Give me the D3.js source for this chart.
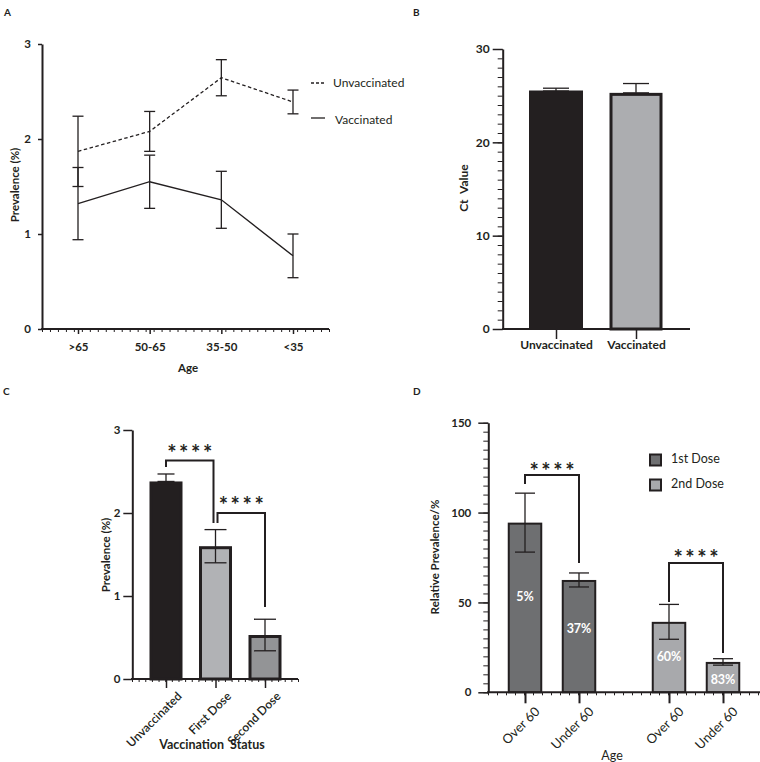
<!DOCTYPE html>
<html><head><meta charset="utf-8">
<script src="https://cdn.jsdelivr.net/npm/d3@7"></script>
<style>
body{margin:0;background:#fff;}
text{font-family:Lato,"Open Sans",sans-serif;fill:#231f20;}
</style></head>
<body>
<svg id="c" width="760" height="762"></svg>
<script>
// ---------- Data ----------
// Panel A
const ageA = [">65", "50-65", "35-50", "<35"];
const unvaccA = [1.87, 2.08, 2.645, 2.39];
const unvaccErrA = [0.37, 0.21, 0.19, 0.125];
const vaccA = [1.32, 1.55, 1.36, 0.77];
const vaccErrA = [0.38, 0.28, 0.30, 0.23];
const ticksA = [0, 1, 2, 3];
// Panel B
const groupsB = ["Unvaccinated", "Vaccinated"];
const ctB = [25.5, 25.3];
const ctErrB = [0.3, 1.0];
const ticksB = [0, 10, 20, 30];
// Panel C
const statusC = ["Unvaccinated", "First Dose", "Second Dose"];
const prevC = [2.38, 1.60, 0.53];
const prevErrC = [0.09, 0.20, 0.19];
const ticksC = [0, 1, 2, 3];
// Panel D
const doseD = ["1st Dose", "2nd Dose"];
const ageD = ["Over 60", "Under 60"];
const relD = [[94.4, 62.5], [39.2, 16.9]];
const relErrD = [[16.4, 3.9], [9.7, 1.8]];
const pctD = [["5%", "37%"], ["60%", "83%"]];
const ticksD = [0, 50, 100, 150];

const ink = "#231f20";
const svg = d3.select("#c");

function panelLabel(t, x, y) {
  svg.append("text").attr("x", x).attr("y", y).attr("font-size", 10).attr("font-weight", 700).text(t);
}
function minorAxis(g, x0, x1, n, y, len) {
  const s = d3.scaleLinear([0, n], [x0, x1]);
  g.append("g").attr("transform", `translate(0,${y})`)
    .call(d3.axisBottom(s).ticks(n).tickFormat("").tickSize(len).tickSizeOuter(0))
    .call(a => a.select(".domain").remove())
    .call(a => a.selectAll("line").attr("stroke", ink).attr("stroke-width", 1));
}
function errBar(g, x, y1, y2, w, sw) {
  g.append("line").attr("x1", x).attr("x2", x).attr("y1", y1).attr("y2", y2).attr("stroke", ink).attr("stroke-width", sw);
  g.append("line").attr("x1", x - w / 2).attr("x2", x + w / 2).attr("y1", y1).attr("y2", y1).attr("stroke", ink).attr("stroke-width", sw);
  if (y2 !== null) g.append("line").attr("x1", x - w / 2).attr("x2", x + w / 2).attr("y1", y2).attr("y2", y2).attr("stroke", ink).attr("stroke-width", sw);
}
function bracket(g, xa, ya, xb, yb, ytop, label, ystarCenter) {
  g.append("path").attr("d", `M${xa},${ya}V${ytop}H${xb}V${yb}`).attr("fill", "none").attr("stroke", ink).attr("stroke-width", 2);
  const fs = 22, ls = 2.6;
  g.append("text").attr("x", (xa + xb) / 2 + ls / 2).attr("y", ystarCenter + 0.57 * fs).attr("text-anchor", "middle")
    .attr("font-size", fs).attr("font-weight", 700).attr("font-family", "Liberation Sans").attr("letter-spacing", ls).text(label);
}

// ---------- Panel A ----------
{
  panelLabel("A", 4, 16);
  const g = svg.append("g");
  const x = d3.scalePoint().domain(ageA).range([78, 293]);
  const y = d3.scaleLinear().domain([0, 3]).range([329, 44]);
  g.append("g").attr("transform", "translate(42,0)")
    .call(d3.axisLeft(y).tickValues(ticksA).tickSize(4).tickSizeOuter(0).tickFormat(d3.format("d")))
    .call(a => a.select(".domain").attr("stroke", ink).attr("stroke-width", 2))
    .call(a => a.selectAll(".tick line").attr("stroke", ink).attr("stroke-width", 1.5))
    .call(a => a.selectAll(".tick text").attr("font-size", 11.5).attr("font-weight", 700).attr("fill", ink).attr("font-family", "Lato").attr("dx", -4));
  g.append("line").attr("x1", 41).attr("x2", 329).attr("y1", y(0)).attr("y2", y(0)).attr("stroke", ink).attr("stroke-width", 2);
  minorAxis(g, 42, 329, 36, y(0), 3);
  g.append("g").attr("transform", `translate(0,${y(0)})`)
    .call(d3.axisBottom(x).tickSize(5).tickSizeOuter(0))
    .call(a => a.select(".domain").remove())
    .call(a => a.selectAll(".tick line").attr("stroke", ink).attr("stroke-width", 1.5))
    .call(a => a.selectAll(".tick text").attr("font-size", 11.5).attr("font-weight", 700).attr("fill", ink).attr("font-family", "Lato").attr("dy", "1.2em"));
  g.append("text").attr("x", 188).attr("y", 372).attr("text-anchor", "middle").attr("font-size", 11.5).attr("font-weight", 700).text("Age");
  g.append("text").attr("transform", "translate(19,185) rotate(-90)").attr("text-anchor", "middle").attr("font-size", 11.5).attr("font-weight", 700).text("Prevalence (%)");
  const lineGen = d3.line().x((d, i) => x(ageA[i])).y(d => y(d));
  g.append("path").attr("d", lineGen(unvaccA)).attr("fill", "none").attr("stroke", ink).attr("stroke-width", 1.3).attr("stroke-dasharray", "3.5,2.5");
  g.append("path").attr("d", lineGen(vaccA)).attr("fill", "none").attr("stroke", ink).attr("stroke-width", 1.3);
  ageA.forEach((a, i) => {
    errBar(g, x(a), y(unvaccA[i] + unvaccErrA[i]), y(unvaccA[i] - unvaccErrA[i]), 11, 1.3);
    errBar(g, x(a), y(vaccA[i] + vaccErrA[i]), y(vaccA[i] - vaccErrA[i]), 11, 1.3);
  });
  g.append("line").attr("x1", 311).attr("x2", 325).attr("y1", 83).attr("y2", 83).attr("stroke", ink).attr("stroke-width", 1.3).attr("stroke-dasharray", "3,2");
  g.append("text").attr("x", 333).attr("y", 87).attr("font-size", 12).attr("fill", "#3a3a3a").text("Unvaccinated");
  g.append("line").attr("x1", 311).attr("x2", 325).attr("y1", 118).attr("y2", 118).attr("stroke", ink).attr("stroke-width", 1.3);
  g.append("text").attr("x", 335).attr("y", 124).attr("font-size", 12).attr("fill", "#3a3a3a").text("Vaccinated");
}

// ---------- Panel B ----------
{
  panelLabel("B", 413, 16);
  const g = svg.append("g");
  const x = d3.scalePoint().domain(groupsB).range([556, 636]);
  const y = d3.scaleLinear().domain([0, 30]).range([329, 49]);
  const bw = 53;
  g.append("g").attr("transform", "translate(502.7,0)")
    .call(d3.axisLeft(y).ticks(30).tickFormat("").tickSize(5).tickSizeOuter(0))
    .call(a => a.select(".domain").remove())
    .call(a => a.selectAll(".tick line").attr("stroke", ink).attr("stroke-width", 1));
  g.append("g").attr("transform", "translate(502.7,0)")
    .call(d3.axisLeft(y).tickValues(ticksB).tickSize(10).tickSizeOuter(0))
    .call(a => a.select(".domain").attr("stroke", ink).attr("stroke-width", 2))
    .call(a => a.selectAll(".tick line").attr("stroke", ink).attr("stroke-width", 1.5))
    .call(a => a.selectAll(".tick text").attr("font-size", 12).attr("font-weight", 700).attr("fill", ink).attr("font-family", "Liberation Sans"));
  g.selectAll(".barB").data(groupsB).enter().append("rect")
    .attr("x", d => x(d) - bw / 2 + (d === "Vaccinated" ? 1.5 : 0))
    .attr("width", d => bw - (d === "Vaccinated" ? 3 : 0))
    .attr("y", (d, i) => y(ctB[i]) + (d === "Vaccinated" ? 1.5 : 0))
    .attr("height", (d, i) => y(0) - y(ctB[i]) - (d === "Vaccinated" ? 1.5 : 0))
    .attr("fill", d => d === "Vaccinated" ? "#acadb0" : ink)
    .attr("stroke", ink).attr("stroke-width", d => d === "Vaccinated" ? 3 : 1);
  groupsB.forEach((d, i) => errBar(g, x(d), y(ctB[i] + ctErrB[i]), y(ctB[i]), 26, 1.3));
  g.append("line").attr("x1", 502).attr("x2", 690).attr("y1", y(0)).attr("y2", y(0)).attr("stroke", ink).attr("stroke-width", 2);
  g.append("g").attr("transform", `translate(0,${y(0)})`)
    .call(d3.axisBottom(x).tickSize(10).tickSizeOuter(0))
    .call(a => a.select(".domain").remove())
    .call(a => a.selectAll(".tick line").attr("stroke", ink).attr("stroke-width", 1.5))
    .call(a => a.selectAll(".tick text").attr("font-size", 12).attr("font-weight", 700).attr("fill", ink).attr("font-family", "Lato").attr("dy", "0.6em"));
  g.append("text").attr("transform", "translate(468,188) rotate(-90)").attr("text-anchor", "middle").attr("font-size", 12).attr("font-weight", 700).attr("font-family", "Liberation Sans").attr("xml:space", "preserve").text("Ct  Value");
}

// ---------- Panel C ----------
{
  panelLabel("C", 3, 395);
  const g = svg.append("g");
  const x = d3.scalePoint().domain(statusC).range([166, 265]);
  const y = d3.scaleLinear().domain([0, 3]).range([679, 430]);
  const bw = 33;
  const fillC = [ink, "#b1b2b5", "#939496"];
  g.append("g").attr("transform", "translate(132.3,0)")
    .call(d3.axisLeft(y).tickValues(ticksC).tickSize(9).tickSizeOuter(0).tickFormat(d3.format("d")))
    .call(a => a.select(".domain").attr("stroke", ink).attr("stroke-width", 2))
    .call(a => a.selectAll(".tick line").attr("stroke", ink).attr("stroke-width", 1.5))
    .call(a => a.selectAll(".tick text").attr("font-size", 11.5).attr("font-weight", 700).attr("fill", ink).attr("font-family", "Lato"));
  g.selectAll(".barC").data(statusC).enter().append("rect")
    .attr("x", d => x(d) - bw / 2 + 1.5).attr("width", bw - 3)
    .attr("y", (d, i) => y(prevC[i]) + 1.5).attr("height", (d, i) => y(0) - y(prevC[i]) - 1.5)
    .attr("fill", (d, i) => fillC[i]).attr("stroke", ink).attr("stroke-width", 3);
  statusC.forEach((d, i) => errBar(g, x(d), y(prevC[i] + prevErrC[i]), i === 0 ? y(prevC[i]) : y(prevC[i] - prevErrC[i]), i === 0 ? 17 : 22, 1.3));
  g.append("line").attr("x1", 131).attr("x2", 298).attr("y1", y(0)).attr("y2", y(0)).attr("stroke", ink).attr("stroke-width", 2);
  minorAxis(g, 132, 298, 25, y(0), 3);
  g.append("g").attr("transform", `translate(0,${y(0)})`)
    .call(d3.axisBottom(x).tickSize(9).tickSizeOuter(0))
    .call(a => a.select(".domain").remove())
    .call(a => a.selectAll(".tick line").attr("stroke", ink).attr("stroke-width", 1.5))
    .call(a => a.selectAll(".tick text").attr("font-size", 12).attr("font-weight", 600).attr("fill", ink).attr("font-family", "Lato")
      .attr("text-anchor", "end").attr("transform", "translate(16,18) rotate(-45)").attr("dy", 0).attr("y", 0));
  bracket(g, x(statusC[0]), 467, x(statusC[1]) - 2, 523, 460.5, "****", 448);
  bracket(g, x(statusC[1]) + 2, 523, x(statusC[2]), 607, 513, "****", 500);
  g.append("text").attr("x", 212).attr("y", 749).attr("text-anchor", "middle").attr("font-size", 12.5).attr("font-weight", 700).attr("xml:space", "preserve").text("Vaccination  Status");
  g.append("text").attr("transform", "translate(110,555) rotate(-90)").attr("text-anchor", "middle").attr("font-size", 11.5).attr("font-weight", 700).text("Prevalence (%)");
}

// ---------- Panel D ----------
{
  panelLabel("D", 413, 395);
  const g = svg.append("g");
  const xo = d3.scalePoint().domain(doseD).range([552, 696]);
  const xi = d3.scalePoint().domain(ageD).range([-27, 27]);
  const y = d3.scaleLinear().domain([0, 150]).range([692.3, 422.7]);
  const bw = 34.5;
  const fillD = ["#6e6f71", "#a8a9ac"];
  g.append("g").attr("transform", "translate(488.3,0)")
    .call(d3.axisLeft(y).ticks(30).tickFormat("").tickSize(5).tickSizeOuter(0))
    .call(a => a.select(".domain").remove())
    .call(a => a.selectAll(".tick line").attr("stroke", ink).attr("stroke-width", 1));
  g.append("g").attr("transform", "translate(488.3,0)")
    .call(d3.axisLeft(y).tickValues(ticksD).tickSize(10).tickSizeOuter(0))
    .call(a => a.select(".domain").attr("stroke", ink).attr("stroke-width", 2))
    .call(a => a.selectAll(".tick line").attr("stroke", ink).attr("stroke-width", 1.5))
    .call(a => a.selectAll(".tick text").attr("font-size", 11.5).attr("font-weight", 700).attr("fill", ink).attr("font-family", "Lato").attr("dx", -4));
  doseD.forEach((dose, j) => {
    ageD.forEach((age, k) => {
      const cx = xo(dose) + xi(age);
      const v = relD[j][k], e = relErrD[j][k];
      g.append("rect").attr("x", cx - bw / 2 + 1).attr("width", bw - 2)
        .attr("y", y(v) + 1).attr("height", y(0) - y(v) - 1)
        .attr("fill", fillD[j]).attr("stroke", ink).attr("stroke-width", 2);
      errBar(g, cx, y(v + e), y(v - e), 20, 1.3);
    });
  });
  const pctY = [[596.7, 628.7], [656, 679]];
  doseD.forEach((dose, j) => ageD.forEach((age, k) => {
    g.append("text").attr("x", xo(dose) + xi(age)).attr("y", pctY[j][k] + 4.5)
      .attr("text-anchor", "middle").attr("font-size", 12.5).attr("font-weight", 700).style("fill", "#ffffff").text(pctD[j][k]);
  }));
  g.append("line").attr("x1", 487).attr("x2", 760).attr("y1", y(0)).attr("y2", y(0)).attr("stroke", ink).attr("stroke-width", 2);
  minorAxis(g, 488, 767, 31, y(0), 3);
  doseD.forEach(dose => {
    const xs = d3.scalePoint().domain(ageD).range([xo(dose) - 27, xo(dose) + 27]);
    g.append("g").attr("transform", `translate(0,${y(0)})`)
      .call(d3.axisBottom(xs).tickSize(11).tickSizeOuter(0))
      .call(a => a.select(".domain").remove())
      .call(a => a.selectAll(".tick line").attr("stroke", ink).attr("stroke-width", 2))
      .call(a => a.selectAll(".tick text").attr("font-size", 13).attr("fill", ink).attr("font-family", "Lato")
        .attr("text-anchor", "end").attr("transform", "translate(15,20) rotate(-45)").attr("dy", 0).attr("y", 0));
  });
  bracket(g, xo(doseD[0]) + xi(ageD[0]), 484, xo(doseD[0]) + xi(ageD[1]), 563, 475, "****", 466);
  bracket(g, xo(doseD[1]) + xi(ageD[0]), 602, xo(doseD[1]) + xi(ageD[1]), 653, 563, "****", 553);
  g.append("text").attr("x", 612).attr("y", 760).attr("text-anchor", "middle").attr("font-size", 12.5).text("Age");
  g.append("text").attr("transform", "translate(439,557) rotate(-90)").attr("text-anchor", "middle").attr("font-size", 11.5).attr("font-weight", 700).text("Relative Prevalence/%");
  doseD.forEach((d, i) => {
    g.append("rect").attr("x", 650).attr("y", 454.5 + i * 25).attr("width", 11).attr("height", 11)
      .attr("fill", fillD[i]).attr("stroke", ink).attr("stroke-width", 2);
    g.append("text").attr("x", 671).attr("y", 463 + i * 25).attr("font-size", 12.5).attr("fill", "#3a3a3a").text(d);
  });
}
</script>
</body></html>
